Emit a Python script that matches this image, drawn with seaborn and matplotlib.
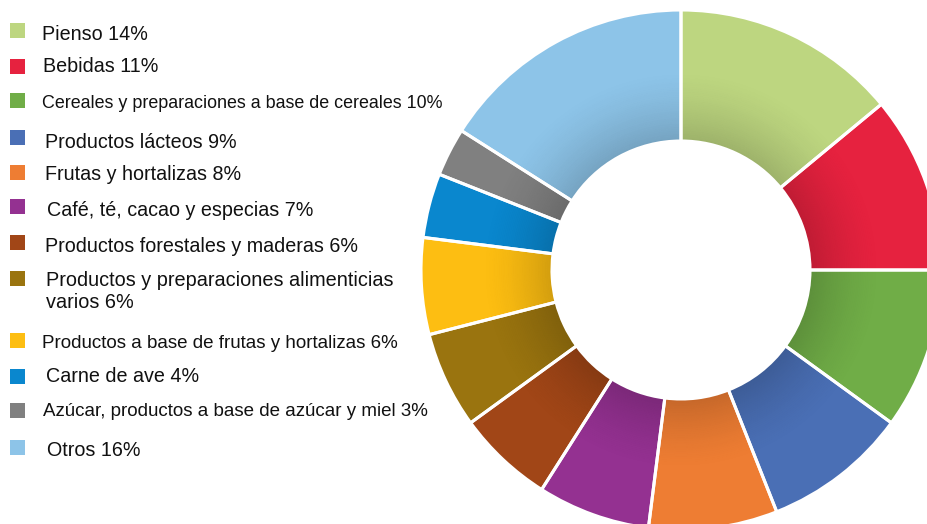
import numpy as np
import matplotlib
matplotlib.use("Agg")
import matplotlib.pyplot as plt
from matplotlib.patches import Wedge, Rectangle
import seaborn as sns

# data
labels = ["Pienso 14%", "Bebidas 11%", "Cereales y preparaciones a base de cereales 10%",
          "Productos lácteos 9%", "Frutas y hortalizas 8%", "Café, té, cacao y especias 7%",
          "Productos forestales y maderas 6%", "Productos y preparaciones alimenticias\nvarios 6%",
          "Productos a base de frutas y hortalizas 6%", "Carne de ave 4%",
          "Azúcar, productos a base de azúcar y miel 3%", "Otros 16%"]
shares = [14, 11, 10, 9, 8, 7, 6, 6, 6, 4, 3, 16]
colors = ["#BDD680", "#E6223F", "#70AD47", "#4A6FB5", "#EE7D33", "#943191",
          "#A14617", "#9A740F", "#FDBE12", "#0A87CE", "#808080", "#8DC4E8"]

# legend layout (pixels from top), as in the original slide
text_y = [35, 67, 104, 142, 175, 211, 247, 291, 344, 377, 412, 450]
box_y = [30, 66, 100, 137, 172, 206, 242, 278, 340, 376, 410, 447]
text_x = [42, 43, 42, 45, 45, 47, 45, 46, 42, 46, 43, 47]
sizes = [14.2, 14.2, 12.9, 14.2, 14.2, 14.2, 14.2, 14.3, 13.5, 14.2, 13.5, 14.2]

sns.set_theme(style="white")
plt.rcParams["font.family"] = ["Liberation Sans", "DejaVu Sans"]

W, H = 928, 524
fig = plt.figure(figsize=(W / 100, H / 100), dpi=100)
ax = fig.add_axes([0, 0, 1, 1])

cx, cy = 681, H - 270
r_out, r_in = 260, 129

ax.pie(shares, colors=colors, startangle=90, counterclock=False,
       center=(cx, cy), radius=r_out,
       wedgeprops=dict(width=r_out - r_in, linewidth=0))

# soft inner shadow on the ring
n = 40
r0, r1 = r_in, r_in + 70
for i in range(n):
    a = r0 + (r1 - r0) * i / n
    b = r0 + (r1 - r0) * (i + 1) / n
    t = (i + 0.5) / n
    ax.add_patch(Wedge((cx, cy), b, 0, 360, width=b - a, facecolor="black",
                       alpha=0.17 * (1 - t) ** 1.5, linewidth=0))

# white separators on top
ax.pie(shares, colors=["none"] * len(shares), startangle=90, counterclock=False,
       center=(cx, cy), radius=r_out,
       wedgeprops=dict(width=r_out - r_in, linewidth=2.2, edgecolor="white"))

for lab, col, ty, by, tx, fs in zip(labels, colors, text_y, box_y, text_x, sizes):
    ax.add_patch(Rectangle((10, H - by - 7.5), 15, 15, facecolor=col, linewidth=0))
    if "\n" in lab:
        first, second = lab.split("\n")
        ax.text(tx, H - 281, first, fontsize=fs, va="center", ha="left", color="#111111")
        ax.text(tx, H - 302, second, fontsize=fs, va="center", ha="left", color="#111111")
    else:
        ax.text(tx, H - ty, lab, fontsize=fs, va="center", ha="left", color="#111111")

ax.set_xlim(0, W)
ax.set_ylim(0, H)
ax.set_aspect("equal")
ax.axis("off")

fig.savefig("out.png", dpi=100)
